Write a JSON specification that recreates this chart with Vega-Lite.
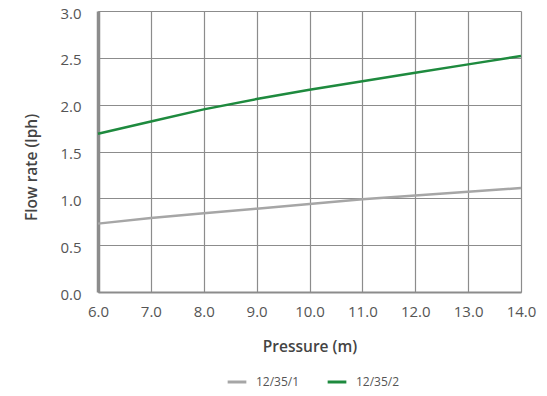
{
  "$schema": "https://vega.github.io/schema/vega-lite/v6.json",
  "width": 423,
  "height": 281,
  "autosize": {"type": "none"},
  "padding": {"left": 98, "top": 11, "right": 26, "bottom": 104},
  "background": "white",
  "config": {
    "font": "Open Sans",
    "view": {"stroke": null},
    "axis": {
      "labelFont": "Open Sans",
      "titleFont": "Open Sans",
      "labelColor": "#555555",
      "titleColor": "#444444",
      "labelFontSize": 15,
      "titleFontSize": 15.5,
      "titleFontWeight": 600,
      "gridColor": "#8c8c8c",
      "gridWidth": 1.2,
      "gridOpacity": 1,
      "ticks": false,
      "domainColor": "#8c8c8c"
    },
    "legend": {
      "labelFont": "Open Sans",
      "labelFontSize": 12,
      "labelColor": "#555555"
    }
  },
  "data": {
    "values": [
      {"pressure": 6, "flow": 0.73, "series": "12/35/1"},
      {"pressure": 7, "flow": 0.79, "series": "12/35/1"},
      {"pressure": 8, "flow": 0.84, "series": "12/35/1"},
      {"pressure": 9, "flow": 0.89, "series": "12/35/1"},
      {"pressure": 10, "flow": 0.94, "series": "12/35/1"},
      {"pressure": 11, "flow": 0.99, "series": "12/35/1"},
      {"pressure": 12, "flow": 1.03, "series": "12/35/1"},
      {"pressure": 13, "flow": 1.07, "series": "12/35/1"},
      {"pressure": 14, "flow": 1.11, "series": "12/35/1"},
      {"pressure": 6, "flow": 1.69, "series": "12/35/2"},
      {"pressure": 7, "flow": 1.82, "series": "12/35/2"},
      {"pressure": 8, "flow": 1.95, "series": "12/35/2"},
      {"pressure": 9, "flow": 2.06, "series": "12/35/2"},
      {"pressure": 10, "flow": 2.16, "series": "12/35/2"},
      {"pressure": 11, "flow": 2.25, "series": "12/35/2"},
      {"pressure": 12, "flow": 2.34, "series": "12/35/2"},
      {"pressure": 13, "flow": 2.43, "series": "12/35/2"},
      {"pressure": 14, "flow": 2.52, "series": "12/35/2"}
    ]
  },
  "mark": {"type": "line", "strokeWidth": 2.5, "clip": false},
  "encoding": {
    "x": {
      "field": "pressure",
      "type": "quantitative",
      "title": "Pressure (m)",
      "scale": {"domain": [6, 14], "nice": false, "zero": false},
      "axis": {
        "values": [6, 7, 8, 9, 10, 11, 12, 13, 14],
        "format": ".1f",
        "labelPadding": 12,
        "titlePadding": 20,
        "domainWidth": 2,
        "labelFlush": false
      }
    },
    "y": {
      "field": "flow",
      "type": "quantitative",
      "title": "Flow rate (lph)",
      "scale": {"domain": [0, 3], "nice": false},
      "axis": {
        "values": [0, 0.5, 1, 1.5, 2, 2.5, 3],
        "format": ".1f",
        "labelPadding": 17,
        "labelBaseline": "middle",
        "labelOffset": 2,
        "titlePadding": 20,
        "titleY": 156,
        "domainWidth": 3.5,
        "labelFlush": false
      }
    },
    "color": {
      "field": "series",
      "type": "nominal",
      "scale": {"domain": ["12/35/1", "12/35/2"], "range": ["#a6a6a6", "#1e8a3e"]},
      "legend": {
        "title": null,
        "orient": "none",
        "direction": "horizontal",
        "legendX": 128,
        "legendY": 360,
        "symbolType": "stroke",
        "symbolStrokeWidth": 3,
        "symbolSize": 350,
        "columnPadding": 21,
        "labelOffset": 8
      }
    }
  }
}
